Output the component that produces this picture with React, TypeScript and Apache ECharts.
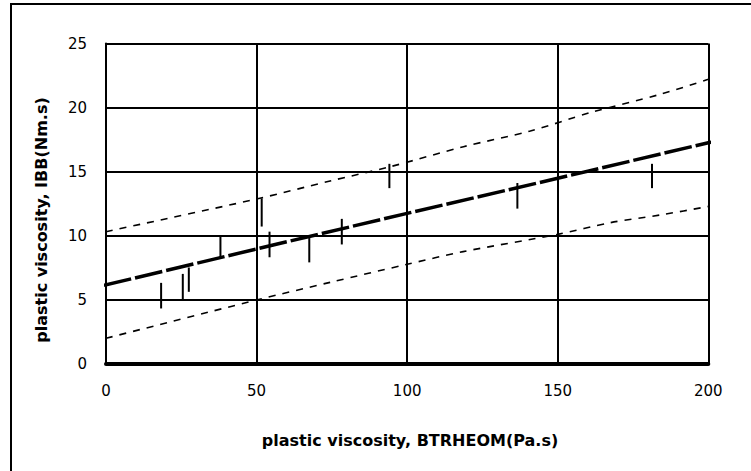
import React, { useEffect, useRef } from "react";
import * as echarts from "echarts";

const xTitle = "plastic viscosity, BTRHEOM(Pa.s)";
const yTitle = "plastic viscosity, IBB(Nm.s)";

// measured error bars (x, low, high)
const barX = [18.3, 25.5, 27.5, 38.0, 51.7, 54.3, 67.5, 78.3, 94.1, 136.6, 181.3];
const barLow = [4.3, 5.0, 5.6, 8.3, 10.7, 8.3, 7.9, 9.3, 13.7, 12.1, 13.7];
const barHigh = [6.3, 7.0, 7.5, 9.9, 12.9, 10.3, 9.8, 11.3, 15.6, 14.1, 15.6];

// fitted line
const fitX = [-0.7, 50, 100, 150, 200, 205];
const fitY = [6.1, 8.95, 11.73, 14.47, 17.25, 17.46];

// upper band
const upperX = [0, 50, 74.4, 94.3, 118.7, 140.9, 160.8, 184, 200, 205];
const upperY = [10.3, 12.85, 14.26, 15.37, 16.94, 18.16, 19.6, 21.03, 22.2, 22.6];

// lower band
const lowerX = [0, 50, 74.4, 100, 118.6, 150, 167.4, 184, 202];
const lowerY = [1.97, 4.96, 6.34, 7.75, 8.74, 10.09, 11.0, 11.6, 12.35];

const pairs = (xs: number[], ys: number[]) => xs.map((x, i) => [x, ys[i]]);

export default function App() {
  const ref = useRef<HTMLDivElement>(null);
  useEffect(() => {
    if (!ref.current) return;
    const chart = echarts.init(ref.current, null, { renderer: "svg" });
    const font = "DejaVu Sans";
    chart.setOption({
      animation: false,
      backgroundColor: "#ffffff",
      grid: { left: 106, top: 43.5, right: 42.7, bottom: 107.5, containLabel: false },
      xAxis: {
        type: "value",
        min: 0,
        max: 200,
        interval: 50,
        axisLine: { show: true, onZero: false, lineStyle: { color: "#000", width: 4 } },
        axisTick: { show: false },
        axisLabel: { color: "#000", fontFamily: font, fontSize: 15, margin: 20 },
        splitLine: { show: true, lineStyle: { color: "#000", width: 2 } },
      },
      yAxis: {
        type: "value",
        min: 0,
        max: 25,
        interval: 5,
        axisLine: { show: true, onZero: false, lineStyle: { color: "#000", width: 2 } },
        axisTick: { show: false },
        axisLabel: { color: "#000", fontFamily: font, fontSize: 15, margin: 19 },
        splitLine: { show: true, lineStyle: { color: "#000", width: 2 } },
      },
      graphic: [
        {
          type: "rect",
          shape: { x: 11, y: 4, width: 900, height: 600 },
          style: { fill: "none", stroke: "#000", lineWidth: 2 },
          silent: true,
        },
        {
          type: "text",
          x: 410,
          y: 440,
          style: {
            text: xTitle,
            fill: "#000",
            font: `bold 16px "${font}"`,
            textAlign: "center",
            textVerticalAlign: "middle",
          },
        },
        {
          type: "text",
          x: 41,
          y: 220,
          rotation: Math.PI / 2,
          style: {
            text: yTitle,
            fill: "#000",
            font: `bold 16px "${font}"`,
            textAlign: "center",
            textVerticalAlign: "middle",
          },
        },
      ],
      series: [
        {
          type: "line",
          data: pairs(upperX, upperY),
          showSymbol: false,
          smooth: 0.3,
          clip: false,
          lineStyle: { color: "#000", width: 1.6, type: [7, 7] },
        },
        {
          type: "line",
          data: pairs(lowerX, lowerY),
          showSymbol: false,
          smooth: 0.3,
          clip: false,
          lineStyle: { color: "#000", width: 1.6, type: [7, 7] },
        },
        {
          type: "line",
          data: pairs(fitX, fitY),
          showSymbol: false,
          clip: false,
          lineStyle: { color: "#000", width: 3.5, type: [28, 4] },
        },
        {
          type: "custom",
          data: barX.map((x, i) => [x, barLow[i], barHigh[i]]),
          encode: { x: 0, y: [1, 2] },
          renderItem: (params: any, api: any) => {
            const p1 = api.coord([api.value(0), api.value(1)]);
            const p2 = api.coord([api.value(0), api.value(2)]);
            return {
              type: "line",
              shape: { x1: p1[0], y1: p1[1], x2: p2[0], y2: p2[1] },
              style: { stroke: "#000", lineWidth: 2 },
            };
          },
        },
      ],
    });
    return () => chart.dispose();
  }, []);
  return (
    <div
      ref={ref}
      style={{ position: "absolute", left: 0, top: 0, width: 751, height: 471, background: "#fff" }}
    />
  );
}
